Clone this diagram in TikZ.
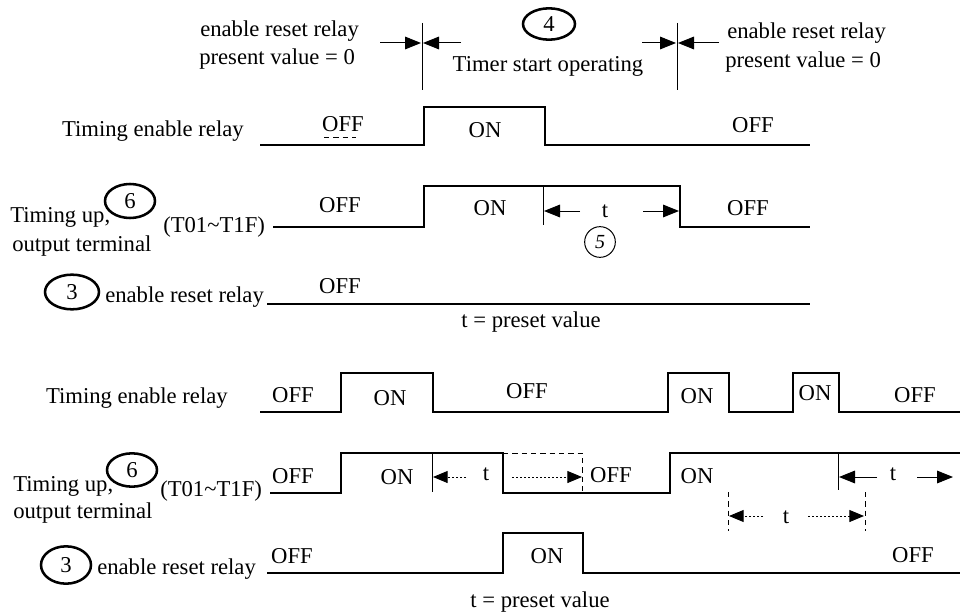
\documentclass[tikz,border=0pt]{standalone}
\usepackage{fontspec}
\setmainfont{Liberation Serif}
\usetikzlibrary{arrows.meta,shapes.geometric}
\begin{document}
\begin{tikzpicture}[x=0.75pt,y=-0.75pt,
  every node/.style={font=\fontsize{17}{20}\selectfont, inner sep=0pt},
  txt/.style={anchor=base},
  txtl/.style={anchor=base west},
  txtr/.style={anchor=base east},
  wave/.style={line width=2.2pt, line join=miter},
  tickln/.style={line width=0.75pt},
  dimarr/.style={line width=0.75pt, -{Triangle[length=12pt,width=9.5pt]}},
  dotarr/.style={line width=0.75pt, dash pattern=on 1.5pt off 1.5pt, -{Triangle[length=11pt,width=9pt]}},
  dashln/.style={line width=0.75pt, dash pattern=on 4pt off 3pt},
  ovl/.style 2 args={ellipse, draw, line width=1.9pt, minimum width=#1, minimum height=#2},
  smallcirc/.style={circle, draw, line width=0.75pt, minimum size=23pt}
]
\useasboundingbox[fill=white] (0,0) rectangle (960,613);

% ================= TOP DIAGRAM =================
\node[txtl] (tl1) at (200,37) {enable reset relay};
\node[txtl] (tl2) at (199,65) {present value = 0};
\node[txtl] (tr1) at (727,39) {enable reset relay};
\node[txtl] (tr2) at (725,68) {present value = 0};
\node[ovl={39pt}{23.5pt}] (c4) at (549,24) {4};
\node[txt] (tso) at (548,72) {Timer start operating};

\coordinate (v1t) at (422,23); \coordinate (v1b) at (422,90);
\coordinate (v2t) at (677,23); \coordinate (v2b) at (677,90);
\draw[tickln] (v1t) -- (v1b);
\draw[tickln] (v2t) -- (v2b);
\coordinate (a1s) at (380,43); \coordinate (a1e) at (421,43);
\coordinate (a2s) at (461,43); \coordinate (a2e) at (423,43);
\coordinate (a3s) at (642,43); \coordinate (a3e) at (676,43);
\coordinate (a4s) at (719,43); \coordinate (a4e) at (678,43);
\draw[dimarr] (a1s) -- (a1e);
\draw[dimarr] (a2s) -- (a2e);
\draw[dimarr] (a3s) -- (a3e);
\draw[dimarr] (a4s) -- (a4e);

% row 1
\node[txtr] (ter1) at (244,137) {Timing enable relay};
\draw[wave] (260,145) -- (424,145) -- (424,107) -- (545,107) -- (545,145) -- (810,145);
\node[txt] (r1off1) at (343,132) {OFF};
\draw[line width=0.75pt, dash pattern=on 4pt off 3pt] (324,138) -- (356,138);
\node[txt] (r1on) at (485,138) {ON};
\node[txt] (r1off2) at (753,133) {OFF};

% row 2
\node[txtl] (tu1) at (10,223) {Timing up,};
\node[txtl] (ot1) at (12,251) {output terminal};
\node[ovl={37.5pt}{25.5pt}] (c6a) at (130,201) {6};
\node[txtl] (tt1) at (163,232) {(T01\textasciitilde T1F)};
\draw[wave] (273,227) -- (424,227) -- (424,186) -- (680,186) -- (680,227) -- (810,227);
\node[txt] (r2off1) at (340,212) {OFF};
\node[txt] (r2on) at (490,215) {ON};
\node[txt] (r2off2) at (748,215) {OFF};
\coordinate (k1t) at (543,186); \coordinate (k1b) at (543,225);
\draw[tickln] (k1t) -- (k1b);
\coordinate (b1s) at (580,211); \coordinate (b1e) at (544,211);
\coordinate (b2s) at (643,211); \coordinate (b2e) at (679,211);
\draw[dimarr] (b1s) -- (b1e);
\draw[dimarr] (b2s) -- (b2e);
\node[txt] (tA) at (605,218) {t};
\node[smallcirc] (c5) at (600,242) {\fontsize{15}{17}\selectfont\itshape 5};

% row 3
\node[ovl={40.5pt}{26pt}] (c3a) at (72,292) {3};
\node[txtl] (er1) at (105,302) {enable reset relay};
\draw[wave] (267,304) -- (810,304);
\node[txt] (r3off) at (340,293) {OFF};
\node[txt] (pv1) at (531,327) {t = preset value};

% ================= BOTTOM DIAGRAM =================
% row A
\node[txtr] (ter2) at (228,403) {Timing enable relay};
\draw[wave] (260,412) -- (341,412) -- (341,373) -- (433,373) -- (433,412) -- (668,412) -- (668,373) -- (729,373) -- (729,412) -- (793,412) -- (793,373) -- (839,373) -- (839,412) -- (962,412);
\node[txt] (aoff1) at (293,402) {OFF};
\node[txt] (aon1) at (390,405) {ON};
\node[txt] (aoff2) at (527,398) {OFF};
\node[txt] (aon2) at (697,403) {ON};
\node[txt] (aon3) at (815,400) {ON};
\node[txt] (aoff3) at (915,402) {OFF};

% row B
\node[txtl] (tu2) at (13,491) {Timing up,};
\node[txtl] (ot2) at (13,518) {output terminal};
\node[ovl={37.5pt}{25pt}] (c6b) at (132,470) {6};
\node[txtl] (tt2) at (160,496) {(T01\textasciitilde T1F)};
\draw[wave] (270,493) -- (341,493) -- (341,453) -- (503,453) -- (503,493) -- (670,493) -- (670,453) -- (962,453);
\node[txt] (boff1) at (293,483) {OFF};
\node[txt] (bon1) at (397,484) {ON};
\coordinate (k2t) at (432,453); \coordinate (k2b) at (432,492);
\draw[tickln] (k2t) -- (k2b);
\coordinate (d1s) at (466,477); \coordinate (d1e) at (433,477);
\draw[dotarr] (d1s) -- (d1e);
\node[txt] (tB) at (486,480) {t};
\coordinate (rb1) at (503,453); \coordinate (rb2) at (582,453); \coordinate (rb3) at (582,493);
\draw[dashln] (rb1) -- (rb2) -- (rb3);
\coordinate (d2s) at (512,477); \coordinate (d2e) at (582,477);
\draw[dotarr] (d2s) -- (d2e);
\node[txt] (boff2) at (611,482) {OFF};
\node[txt] (bon2) at (697,483) {ON};
\coordinate (k3t) at (838,453); \coordinate (k3b) at (838,490);
\draw[tickln] (k3t) -- (k3b);
\coordinate (e1s) at (877,477); \coordinate (e1e) at (839,477);
\coordinate (e2s) at (917,477); \coordinate (e2e) at (953,477);
\draw[dimarr] (e1s) -- (e1e);
\draw[dimarr] (e2s) -- (e2e);
\node[txt] (tC) at (893,480) {t};

% dashed interval below
\coordinate (g1t) at (728,492); \coordinate (g1b) at (728,531);
\coordinate (g2t) at (865,492); \coordinate (g2b) at (865,531);
\draw[dashln] (g1t) -- (g1b);
\draw[dashln] (g2t) -- (g2b);
\coordinate (f1s) at (763,516); \coordinate (f1e) at (729,516);
\coordinate (f2s) at (808,516); \coordinate (f2e) at (864,516);
\draw[dotarr] (f1s) -- (f1e);
\draw[dotarr] (f2s) -- (f2e);
\node[txt] (tD) at (786,523) {t};

% row C
\node[ovl={37.5pt}{28pt}] (c3b) at (66,565) {3};
\node[txtl] (er2) at (97,574) {enable reset relay};
\draw[wave] (267,573) -- (503,573) -- (503,533) -- (583,533) -- (583,573) -- (962,573);
\node[txt] (coff1) at (292,563) {OFF};
\node[txt] (con) at (547,563) {ON};
\node[txt] (coff2) at (913,562) {OFF};
\node[txt] (pv2) at (540,607) {t = preset value};
\end{tikzpicture}
\end{document}
